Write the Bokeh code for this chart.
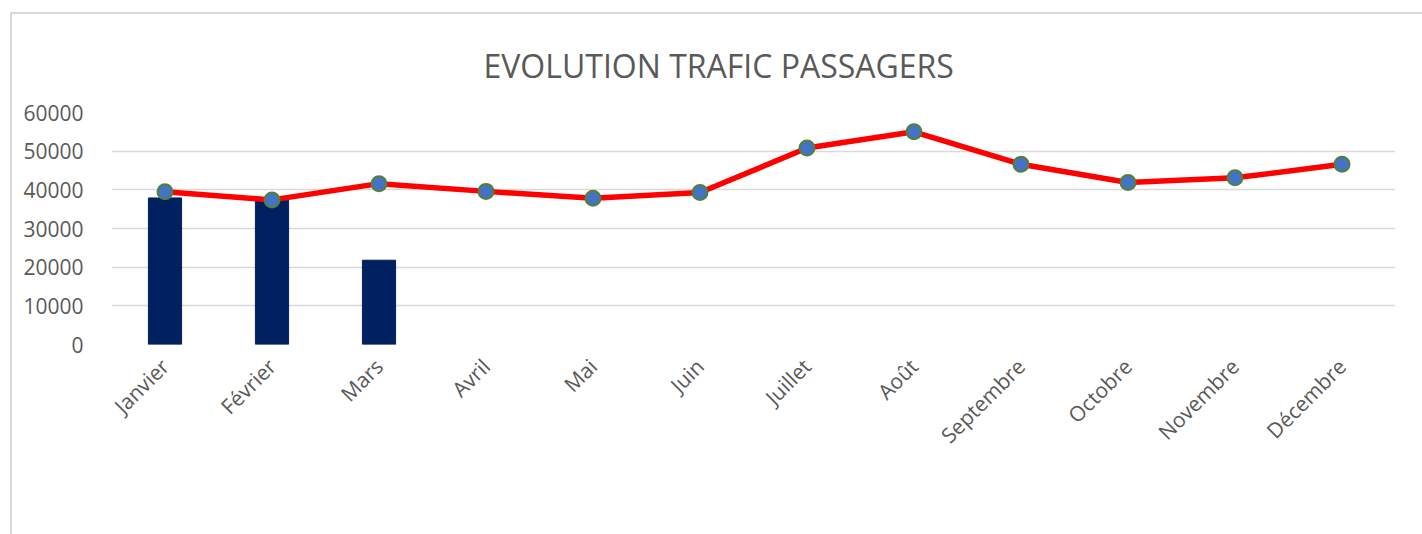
import math
from bokeh.plotting import figure
from bokeh.models import Range1d, Title, Legend, LegendItem, FactorRange
from bokeh.embed import file_html
from bokeh.resources import INLINE

months = ["Janvier", "Février", "Mars", "Avril", "Mai", "Juin", "Juillet",
          "Août", "Septembre", "Octobre", "Novembre", "Décembre"]
months_2020 = ["Janvier", "Février", "Mars"]
values_2020 = [37900, 37300, 21800]
values_2019 = [39500, 37400, 41600, 39600, 37800, 39300, 50800,
               55000, 46600, 41900, 43100, 46600]
y_ticks = [0, 10000, 20000, 30000, 40000, 50000, 60000]

FONT = "Open Sans"
GREY = "#595959"

p = figure(x_range=FactorRange(*months), y_range=Range1d(0, 60000),
           width=1410, height=520, frame_width=1284, frame_height=232,
           output_backend="svg", toolbar_location=None,
           min_border_left=99, min_border_right=27, min_border_top=98,
           min_border_bottom=0, margin=(12, 0, 0, 10),
           styles={"border-left": "2px solid #d9d9d9",
                   "border-top": "2px solid #d9d9d9"})
p.outline_line_color = None
p.background_fill_color = "white"
p.border_fill_color = "white"

bars = p.vbar(x=months_2020, top=values_2020, width=0.31,
              fill_color="#002060", line_color="#002060")
line = p.line(x=months, y=values_2019, line_color="#FF0000", line_width=5.5)
pts = p.scatter(x=months, y=values_2019, size=15, fill_color="#4472C4",
                line_color="#548235", line_width=2)

p.xgrid.grid_line_color = None
p.ygrid.grid_line_color = "#d9d9d9"
p.ygrid.grid_line_width = 1.5
p.yaxis.ticker = y_ticks
p.yaxis.axis_line_color = None
p.yaxis.major_tick_line_color = None
p.yaxis.minor_tick_line_color = None
p.yaxis.major_label_text_font = FONT
p.yaxis.major_label_text_font_size = "21px"
p.yaxis.major_label_text_color = GREY
p.yaxis.major_label_standoff = 22

p.xaxis.axis_line_color = None
p.xaxis.major_tick_line_color = None
p.xaxis.major_label_orientation = math.pi / 4
p.xaxis.major_label_text_font = FONT
p.xaxis.major_label_text_font_size = "21px"
p.xaxis.major_label_text_color = GREY
p.xaxis.major_label_standoff = 12

p.add_layout(Title(text="EVOLUTION TRAFIC PASSAGERS", align="left",
                   offset=372, standoff=52, text_font=FONT,
                   text_font_size="32px", text_font_style="normal",
                   text_color=GREY), "above")

legend = Legend(items=[LegendItem(label="2020", renderers=[bars]),
                       LegendItem(label="2019", renderers=[line, pts])],
                orientation="horizontal", location="bottom",
                glyph_width=54, glyph_height=16, label_text_font=FONT,
                label_text_font_size="21px", label_text_color=GREY,
                background_fill_alpha=0, border_line_color=None,
                spacing=14, label_standoff=4, margin=10, padding=8)
p.add_layout(legend, "below")

open("out.html", "w").write(file_html(p, INLINE))
